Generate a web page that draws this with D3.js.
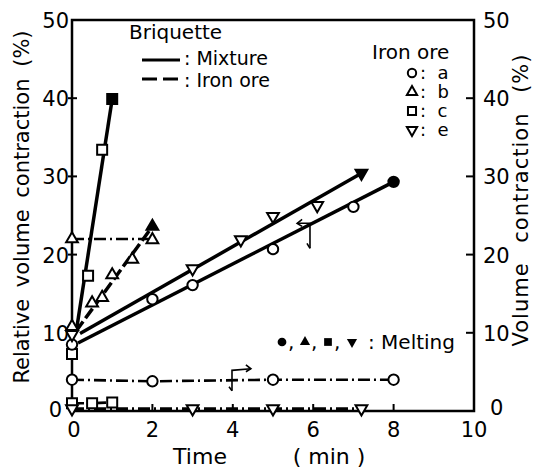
<!DOCTYPE html>
<html>
<head>
<meta charset="utf-8">
<script src="https://cdn.jsdelivr.net/npm/d3@7"></script>
<style>
  html, body { margin: 0; padding: 0; background: #fff; }
  svg { display: block; font-family: "DejaVu Sans", sans-serif; }
</style>
</head>
<body>
<svg id="chart" width="533" height="470"></svg>
<script>
// ---- data (time in min, contraction in %) ----
const xTicks = [0, 2, 4, 6, 8, 10];
const yTicks = [0, 10, 20, 30, 40, 50];

// Mixture briquettes (open markers) and melting points (filled)
const mixA = [[0, 8.5], [2, 14.3], [3, 16.1], [5, 20.7], [7, 26.1]];
const mixB = [[0, 10.8], [0.5, 13.8], [0.75, 14.5], [1, 17.4], [1.5, 19.4], [2, 21.9]];
const mixC = [[0, 7.3], [0.4, 17.3], [0.75, 33.4]];
const mixE = [[0, 9.8], [3, 18.2], [4.2, 21.9], [5, 24.9], [6.1, 26.3]];
const meltA = [[8, 29.3]];
const meltB = [[2, 23.6]];
const meltC = [[1, 39.9]];
const meltE = [[7.2, 30.4]];
// fitted mixture lines
const fitA = [[0.15, 8.7], [8, 29.3]];
const fitB = [[0.1, 10.2], [2, 23.6]];
const fitC = [[0.1, 10.0], [1, 39.9]];
const fitE = [[0.2, 9.9], [7.2, 30.4]];

// Iron ore briquettes
const oreA = [[0, 4.0], [2, 3.8], [5, 4.0], [8, 4.0]];
const oreB = [[0, 22.0]];
const oreBLine = [[0, 22.0], [2, 22.0]];
const oreC = [[0, 1.0], [0.5, 1.0], [1, 1.1]];
const oreE = [[0, 0.3], [3, 0.3], [5, 0.3], [7.2, 0.3]];

// axis-indicating arrows
const arrowLeft = [[5.92, 20.8], [5.92, 24.0], [5.6, 24.0]];
const arrowRight = [[3.98, 2.6], [3.98, 5.2], [4.45, 5.4]];

// legend labels
const oreNames = ["a", "b", "c", "e"];
const meltKeys = ["a", "b", "c", "e"];

// ---- layout ----
const svg = d3.select("#chart");
const x = d3.scaleLinear().domain([0, 10]).range([72, 474]);
const y = d3.scaleLinear().domain([0, 50]).range([411, 20]);
const line = d3.line().x(d => x(d[0])).y(d => y(d[1]));

// frame (top border + axes)
svg.append("path")
  .attr("d", `M${x(0)},${y(0)} V${y(50)} H${x(10)} V${y(0)} Z`)
  .attr("fill", "none").attr("stroke", "#000").attr("stroke-width", 2.5);

// ticks
const tickG = svg.append("g").attr("stroke", "#000").attr("stroke-width", 2);
yTicks.filter(v => v > 0 && v < 50).forEach(v => {
  tickG.append("line").attr("x1", x(0) - 4).attr("x2", x(0) + 5).attr("y1", y(v)).attr("y2", y(v));
  tickG.append("line").attr("x1", x(10) - 8).attr("x2", x(10)).attr("y1", y(v)).attr("y2", y(v));
});
xTicks.filter(v => v > 0 && v < 10).forEach(v => {
  tickG.append("line").attr("x1", x(v)).attr("x2", x(v)).attr("y1", y(0)).attr("y2", y(0) - 7);
});

// tick labels
const lab = svg.append("g").attr("font-size", 21).attr("fill", "#000");
yTicks.forEach(v => {
  lab.append("text").attr("x", v === 0 ? 62 : 69).attr("y", y(v) + (v === 0 ? 6 : 8))
    .attr("text-anchor", "end").text(v);
  lab.append("text").attr("x", v === 0 ? 490 : 483).attr("y", y(v) + (v === 0 ? 4 : 8))
    .attr("text-anchor", "start").text(v);
});
xTicks.forEach(v => {
  lab.append("text").attr("x", x(v) + (v === 0 ? 2 : 0)).attr("y", 437).attr("text-anchor", "middle").text(v);
});

// axis titles
svg.append("text").attr("x", 200).attr("y", 464).attr("text-anchor", "middle")
  .attr("font-size", 22).text("Time");
svg.append("text").attr("x", 329).attr("y", 464).attr("text-anchor", "middle")
  .attr("font-size", 22).attr("xml:space", "preserve").text("( min )");
svg.append("text").attr("transform", "translate(29,207) rotate(-90)")
  .attr("text-anchor", "middle").attr("font-size", 21).attr("word-spacing", 5)
  .text("Relative volume contraction (%)");
svg.append("text").attr("transform", "translate(528,200) rotate(-90)")
  .attr("text-anchor", "middle").attr("font-size", 21).attr("word-spacing", 12)
  .attr("letter-spacing", 1)
  .text("Volume contraction (%)");

// ---- lines ----
const lines = svg.append("g").attr("fill", "none").attr("stroke", "#000");
// iron ore (dashed)
[oreA, oreBLine, oreC, oreE].forEach(d => {
  lines.append("path").attr("d", line(d)).attr("stroke-width", 2.6)
    .attr("stroke-dasharray", "12,4,2,4");
});
// mixture
[fitA, fitC, fitE].forEach(d => {
  lines.append("path").attr("d", line(d)).attr("stroke-width", 3.5);
});
lines.append("path").attr("d", line(fitB)).attr("stroke-width", 3.5)
  .attr("stroke-dasharray", "12,4");

// arrows
const arr = svg.append("g").attr("fill", "none").attr("stroke", "#000").attr("stroke-width", 1.6);
arr.append("path").attr("d", line(arrowLeft));
arr.append("path").attr("d", `M${x(arrowLeft[2][0]) + 5},${y(arrowLeft[2][1]) - 4} L${x(arrowLeft[2][0])},${y(arrowLeft[2][1])} L${x(arrowLeft[2][0]) + 5},${y(arrowLeft[2][1]) + 3}`);
arr.append("path").attr("d", `M${x(arrowLeft[0][0]) - 3},${y(arrowLeft[0][1]) - 5} L${x(arrowLeft[0][0])},${y(arrowLeft[0][1])}`);
arr.append("path").attr("d", line(arrowRight));
arr.append("path").attr("d", `M${x(arrowRight[2][0]) - 5},${y(arrowRight[2][1]) - 4} L${x(arrowRight[2][0])},${y(arrowRight[2][1])} L${x(arrowRight[2][0]) - 5},${y(arrowRight[2][1]) + 3}`);
arr.append("path").attr("d", `M${x(arrowRight[0][0]) - 3},${y(arrowRight[0][1]) - 4} L${x(arrowRight[0][0])},${y(arrowRight[0][1])}`);

// ---- markers ----
const sym = {
  a: d3.symbol().type(d3.symbolCircle).size(85),
  b: d3.symbol().type(d3.symbolTriangle).size(60),
  c: d3.symbol().type(d3.symbolSquare).size(100),
  e: d3.symbol().type(d3.symbolTriangle).size(60)
};
function markers(data, key, filled) {
  svg.append("g").selectAll("path").data(data).join("path")
    .attr("d", sym[key]())
    .attr("transform", d => `translate(${x(d[0])},${y(d[1])})${key === "e" ? " rotate(180)" : ""}`)
    .attr("fill", filled ? "#000" : "#fff")
    .attr("stroke", "#000").attr("stroke-width", 2);
}
markers(oreA, "a"); markers(oreB, "b"); markers(oreC, "c"); markers(oreE, "e");
markers(mixC, "c"); markers(mixA, "a"); markers(mixE, "e"); markers(mixB, "b");
markers(meltA, "a", true); markers(meltB, "b", true); markers(meltC, "c", true); markers(meltE, "e", true);

// ---- legends ----
const leg = svg.append("g").attr("font-size", 20).attr("fill", "#000");
leg.append("text").attr("x", 129).attr("y", 39).text("Briquette");
leg.append("line").attr("x1", 142).attr("x2", 180).attr("y1", 60).attr("y2", 60)
  .attr("stroke", "#000").attr("stroke-width", 3);
leg.append("line").attr("x1", 142).attr("x2", 180).attr("y1", 79).attr("y2", 79)
  .attr("stroke", "#000").attr("stroke-width", 3).attr("stroke-dasharray", "15,6");
leg.append("text").attr("x", 184).attr("y", 65).attr("font-size", 19).text(": Mixture");
leg.append("text").attr("x", 184).attr("y", 87).attr("font-size", 19).text(": Iron ore");

const oreRowY = [73, 92, 111, 130];
leg.append("text").attr("x", 372).attr("y", 59).text("Iron ore");
oreNames.forEach((k, i) => {
  const s = k === "a" ? d3.symbol().type(d3.symbolCircle).size(55)
          : k === "c" ? d3.symbol().type(d3.symbolSquare).size(65)
          : d3.symbol().type(d3.symbolTriangle).size(45);
  leg.append("path").attr("d", s())
    .attr("transform", `translate(412,${oreRowY[i]})${k === "e" ? " rotate(180)" : ""}`)
    .attr("fill", "#fff").attr("stroke", "#000").attr("stroke-width", 2);
  leg.append("text").attr("x", 420).attr("y", oreRowY[i] + 6).attr("font-size", 18)
    .attr("xml:space", "preserve").text(":  " + k);
});

// melting legend
const meltX = [282, 305, 328, 352];
meltKeys.forEach((k, i) => {
  const s = k === "a" ? d3.symbol().type(d3.symbolCircle).size(60)
          : k === "c" ? d3.symbol().type(d3.symbolSquare).size(60)
          : d3.symbol().type(d3.symbolTriangle).size(45);
  leg.append("path").attr("d", s())
    .attr("transform", `translate(${meltX[i]},342)${k === "e" ? " rotate(180)" : ""}`)
    .attr("fill", "#000");
  if (i < 3) leg.append("text").attr("x", meltX[i] + 6).attr("y", 349).text(",");
});
leg.append("text").attr("x", 368).attr("y", 349).text(": Melting");
</script>
</body>
</html>
